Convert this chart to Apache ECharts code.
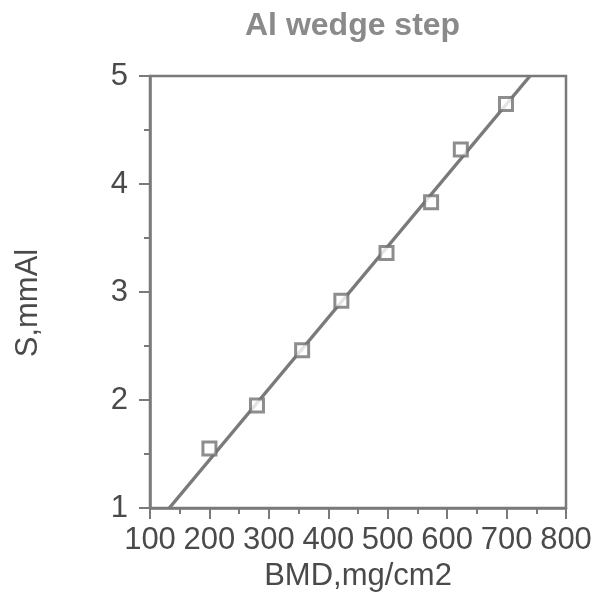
<!DOCTYPE html>
<html>
<head>
<meta charset="utf-8">
<script src="https://cdn.jsdelivr.net/npm/echarts@6/dist/echarts.min.js"></script>
<style>
  html, body { margin: 0; padding: 0; background: #fff; }
  #chart { width: 601px; height: 608px; }
</style>
</head>
<body>
<div id="chart"></div>
<script>
// measured points (BMD mg/cm2, step thickness mmAl)
const bmd = [200, 280, 356, 422, 498, 573, 623, 699];
const stepAl = [1.55, 1.95, 2.46, 2.92, 3.36, 3.83, 4.32, 4.74];
// regression line end points
const fitX = [132.5, 739.4];
const fitY = [1, 5];

const chart = echarts.init(document.getElementById('chart'));

const font = 'Liberation Sans, Arial, Helvetica, sans-serif';
const grey = '#7a7a7a';
const textColor = '#4a4a4a';

chart.setOption({
  animation: false,
  backgroundColor: '#fff',
  title: {
    text: 'Al wedge step',
    left: 240,
    top: 5,
    textStyle: { fontFamily: font, fontSize: 32, fontWeight: 'bold', color: '#8a8a8a' }
  },
  grid: {
    left: 150, right: 35, top: 76, bottom: 100,
    show: true,
    borderColor: grey,
    borderWidth: 2.5
  },
  xAxis: {
    type: 'value',
    min: 100, max: 800, interval: 100,
    name: 'BMD,mg/cm2',
    nameLocation: 'middle',
    nameGap: 52,
    nameTextStyle: { fontFamily: font, fontSize: 31, color: textColor },
    axisLine: { lineStyle: { color: grey, width: 2.5 } },
    axisTick: { inside: false, length: 11, lineStyle: { color: grey, width: 2 } },
    minorTick: { show: true, splitNumber: 2, length: 6, lineStyle: { color: grey, width: 2 } },
    axisLabel: { margin: 17, fontFamily: font, fontSize: 31, color: textColor },
    splitLine: { show: false }
  },
  yAxis: {
    type: 'value',
    min: 1, max: 5, interval: 1,
    name: 'S,mmAl',
    nameLocation: 'middle',
    nameGap: 106,
    nameTextStyle: { fontFamily: font, fontSize: 31, color: textColor, padding: [0, 22, 0, 0] },
    axisLine: { lineStyle: { color: grey, width: 2.5 } },
    axisTick: { inside: false, length: 11, lineStyle: { color: grey, width: 2 } },
    minorTick: { show: true, splitNumber: 2, length: 6, lineStyle: { color: grey, width: 2 } },
    axisLabel: { margin: 22, fontFamily: font, fontSize: 31, color: textColor },
    splitLine: { show: false }
  },
  series: [
    {
      type: 'line',
      data: fitX.map((x, i) => [x, fitY[i]]),
      symbol: 'none',
      clip: true,
      lineStyle: { color: grey, width: 3.5 },
      z: 2
    },
    {
      type: 'scatter',
      data: bmd.map((x, i) => [x, stepAl[i]]),
      symbol: 'rect',
      symbolSize: 13,
      itemStyle: { color: '#fff', borderColor: '#707070', borderWidth: 3 },
      z: 3
    }
  ]
});
</script>
</body>
</html>
